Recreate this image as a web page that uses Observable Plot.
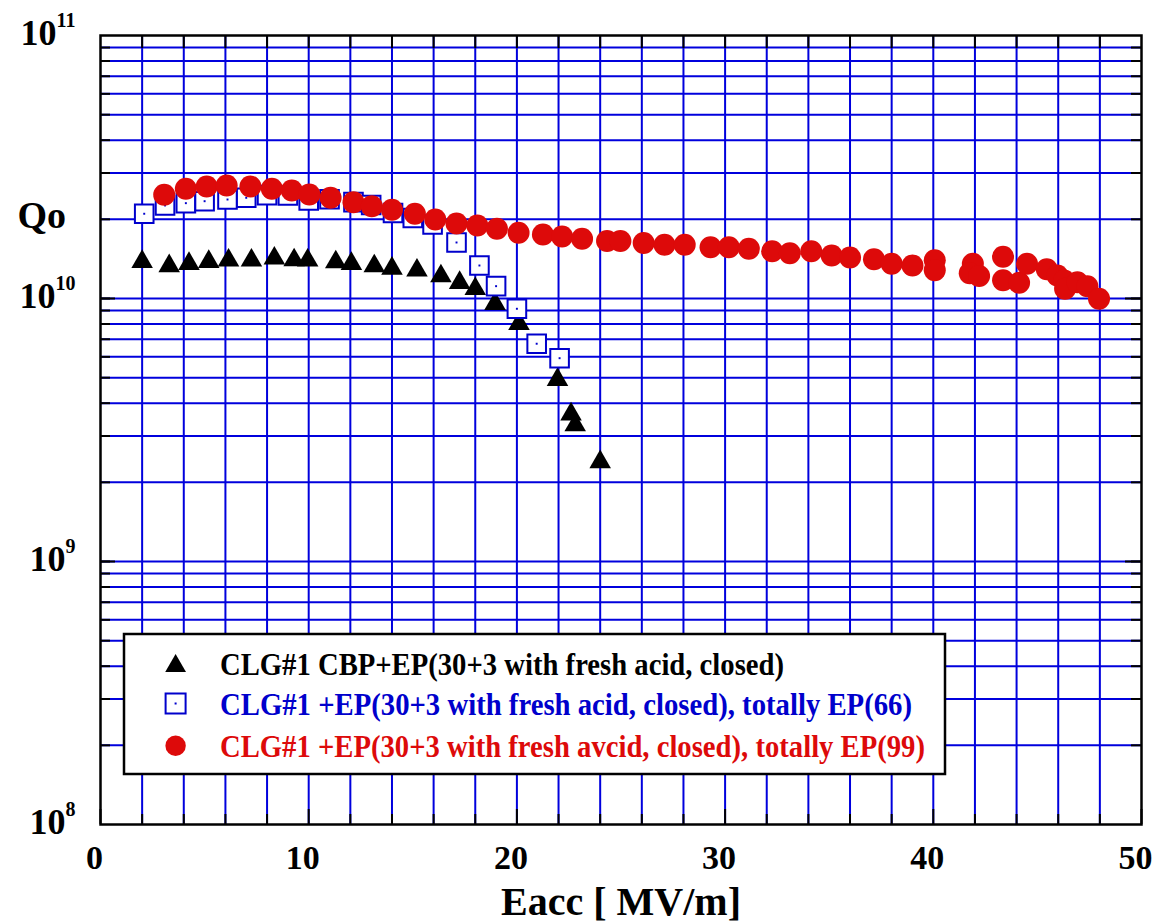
<!DOCTYPE html>
<html>
<head>
<meta charset="utf-8">
<script src="https://cdn.jsdelivr.net/npm/d3@7"></script>
<script src="https://cdn.jsdelivr.net/npm/@observablehq/plot@0.6"></script>
<style>
  html, body { margin: 0; padding: 0; background: #fff; }
  #chart { width: 1154px; height: 922px; }
</style>
</head>
<body>
<div id="chart"></div>
<script>
// ---- data ----
const seriesNames = [
  "CLG#1 CBP+EP(30+3 with fresh acid, closed)",
  "CLG#1 +EP(30+3 with fresh acid, closed), totally EP(66)",
  "CLG#1 +EP(30+3 with fresh avcid, closed), totally EP(99)"
];
const seriesColors = ["#000000", "#0000cc", "#dd0a0a"];

const cbpEacc = [2.0, 3.3, 4.25, 5.2, 6.15, 7.25, 8.35, 9.3, 9.95, 11.3, 12.05, 13.15, 14.0, 15.2, 16.35, 17.25, 18.0, 18.95, 20.1, 21.95, 22.6, 22.8, 24.0];
const cbpQ = [1.38e10, 1.33e10, 1.356e10, 1.38e10, 1.396e10, 1.396e10, 1.421e10, 1.40e10, 1.396e10, 1.375e10, 1.356e10, 1.328e10, 1.301e10, 1.279e10, 1.217e10, 1.148e10, 1.088e10, 9.55e9, 8.02e9, 4.91e9, 3.63e9, 3.30e9, 2.39e9];

const ep66Eacc = [2.1, 3.1, 4.1, 5.0, 6.1, 7.0, 8.0, 9.0, 10.0, 11.0, 12.15, 13.0, 14.05, 15.0, 15.95, 17.1, 18.2, 19.0, 20.0, 20.95, 22.05];
const ep66Q = [2.10e10, 2.258e10, 2.304e10, 2.344e10, 2.379e10, 2.415e10, 2.471e10, 2.464e10, 2.358e10, 2.385e10, 2.324e10, 2.268e10, 2.114e10, 2.024e10, 1.912e10, 1.633e10, 1.335e10, 1.114e10, 9.14e9, 6.73e9, 5.93e9];

const ep99Eacc = [3.06, 4.1, 5.1, 6.06, 7.2, 8.23, 9.19, 10.03, 11.05, 12.15, 13.03, 14.0, 15.1, 16.08, 17.1, 18.1, 19.04, 20.08, 21.25, 22.17, 23.13, 24.33, 24.97, 26.09, 27.09, 28.06, 29.3, 30.18, 31.14, 32.26, 33.11, 34.14, 35.12, 36.0, 37.15, 38.0, 39.0, 40.07, 40.07, 41.9, 41.75, 42.2, 43.35, 43.35, 44.12, 44.5, 45.45, 45.96, 46.28, 46.33, 46.92, 47.4, 47.96];
const ep99Q = [2.480e10, 2.613e10, 2.666e10, 2.690e10, 2.666e10, 2.613e10, 2.574e10, 2.486e10, 2.415e10, 2.324e10, 2.244e10, 2.174e10, 2.099e10, 1.997e10, 1.929e10, 1.895e10, 1.841e10, 1.778e10, 1.751e10, 1.721e10, 1.687e10, 1.654e10, 1.654e10, 1.626e10, 1.600e10, 1.600e10, 1.567e10, 1.567e10, 1.545e10, 1.512e10, 1.487e10, 1.513e10, 1.457e10, 1.432e10, 1.411e10, 1.355e10, 1.335e10, 1.398e10, 1.282e10, 1.355e10, 1.248e10, 1.218e10, 1.441e10, 1.174e10, 1.148e10, 1.355e10, 1.291e10, 1.223e10, 1.171e10, 1.089e10, 1.153e10, 1.113e10, 0.997e10];

const xTicks = [0, 10, 20, 30, 40, 50];
const xGrid = [2, 4, 6, 8, 10, 12, 14, 16, 18, 20, 22, 24, 26, 28, 30, 32, 34, 36, 38, 40, 42, 44, 46, 48];
const yTicks = [1e8, 1e9, 1e10, 1e11];
const yTickLabels = ["10^8", "10^9", "10^10", "10^11"];
const xLabel = "Eacc [ MV/m]";
const yLabel = "Qo";

// ---- build tables ----
const cbp = cbpEacc.map((x, i) => ({x, y: cbpQ[i]}));
const ep66 = ep66Eacc.map((x, i) => ({x, y: ep66Q[i]}));
const ep99 = ep99Eacc.map((x, i) => ({x, y: ep99Q[i]}));
const yDomain = [1e8, 1e11];
const yGrid = d3.scaleLog().domain(yDomain).ticks().filter(v => v > yDomain[0] && v < yDomain[1]);
const yMajor = yTicks.filter(v => v > yDomain[0] && v < yDomain[1]);
const xMinorAll = xGrid;

const W = 1154, H = 922;
const mL = 100, mR = 13, mT = 35, mB = 98;
const fw = W - mL - mR, fh = H - mT - mB;
const gridBlue = "#0000dd";
const font = "Liberation Serif";

const svg = Plot.plot({
  width: W, height: H,
  marginLeft: mL, marginRight: mR, marginTop: mT, marginBottom: mB,
  style: {background: "white", fontFamily: font, overflow: "visible"},
  x: {domain: [0, 50], axis: null},
  y: {type: "log", domain: yDomain, axis: null},
  marks: [
    Plot.ruleX(xGrid, {x: d => d, stroke: gridBlue, strokeWidth: 2}),
    Plot.ruleY(yGrid, {y: d => d, stroke: gridBlue, strokeWidth: 2}),
    // inward ticks
    Plot.tickX(xMinorAll, {x: d => d, insetBottom: fh - 13, stroke: "black", strokeWidth: 2}),
    Plot.tickX(xGrid.filter(v => v % 10 !== 0), {x: d => d, insetTop: fh - 10, stroke: "black", strokeWidth: 2}),
    Plot.tickX(xTicks, {x: d => d, insetTop: fh - 15, stroke: "black", strokeWidth: 2}),
    Plot.tickY(yGrid, {y: d => d, insetRight: fw - 10, stroke: "black", strokeWidth: 2}),
    Plot.tickY(yGrid, {y: d => d, insetLeft: fw - 10, stroke: "black", strokeWidth: 2}),
    Plot.tickY(yMajor, {y: d => d, insetRight: fw - 15, stroke: "black", strokeWidth: 2}),
    Plot.tickY(yMajor, {y: d => d, insetLeft: fw - 16, stroke: "black", strokeWidth: 2}),
    Plot.frame({stroke: "black", strokeWidth: 2.5}),
    // data
    Plot.dot(cbp, {x: "x", y: "y", symbol: "triangle", r: 8, fill: seriesColors[0], stroke: "none"}),
    Plot.dot(ep66, {x: "x", y: "y", symbol: "square", r: 10.5, fill: "white", stroke: seriesColors[1], strokeWidth: 2}),
    Plot.dot(ep66, {x: "x", y: "y", symbol: "square", r: 1.1, fill: seriesColors[1], stroke: "none"}),
    Plot.dot(ep99, {x: "x", y: "y", symbol: "circle", r: 11, fill: seriesColors[2], stroke: "none"}),
    // axis labels
    Plot.text(xTicks, {x: d => d, text: d => String(d), frameAnchor: "bottom", lineAnchor: "bottom", dy: 44, dx: -6,
      fontSize: 34, fontWeight: "bold", fontFamily: font, fill: "black"}),
    Plot.text(yTicks, {y: d => d, text: (d, i) => yTickLabels[i], frameAnchor: "left", textAnchor: "end", lineAnchor: "bottom", dx: -25, dy: 9,
      fontSize: 36, fontWeight: "bold", fontFamily: font, fill: "black"}),
    Plot.text([yLabel], {text: d => d, frameAnchor: "top-left", textAnchor: "start", lineAnchor: "bottom", dx: -83, dy: 192,
      fontSize: 38, fontWeight: "bold", fontFamily: font, fill: "black"}),
    Plot.text([xLabel], {text: d => d, frameAnchor: "bottom", lineAnchor: "bottom", dy: 90,
      fontSize: 40, fontWeight: "bold", fontFamily: font, fill: "black"})
  ]
});

// superscript exponents for the y tick labels
d3.select(svg).selectAll("text").each(function () {
  const m = /^10\^(\d+)$/.exec(this.textContent);
  if (!m) return;
  this.textContent = "10";
  const t = document.createElementNS("http://www.w3.org/2000/svg", "tspan");
  t.setAttribute("dy", "-18");
  t.setAttribute("font-size", "20");
  t.textContent = m[1];
  this.appendChild(t);
});

// legend box inside the plot
const lg = d3.select(svg).append("g")
  .attr("font-family", font).attr("font-weight", "bold").attr("font-size", 31)
  .attr("text-anchor", "start");
lg.append("rect").attr("x", 124).attr("y", 634).attr("width", 821).attr("height", 140)
  .attr("fill", "white").attr("stroke", "black").attr("stroke-width", 2.5);
const rowY = [666, 703.5, 745.7];
const baseY = [674.5, 715, 756.7];
const textLen = [564, 692, 705];
const sym = [d3.symbolTriangle, d3.symbolSquare, d3.symbolCircle];
const symSize = [5.196 * 6.0 * 6.0, 20 * 20, Math.PI * 10.2 * 10.2];
seriesNames.forEach((name, i) => {
  const p = lg.append("path")
    .attr("transform", `translate(175.6,${rowY[i]})`)
    .attr("d", d3.symbol(sym[i], symSize[i])());
  if (i === 1) {
    p.attr("fill", "white").attr("stroke", seriesColors[1]).attr("stroke-width", 2);
    lg.append("rect").attr("x", 174.6).attr("y", rowY[i] - 1).attr("width", 2).attr("height", 2).attr("fill", seriesColors[1]);
  } else {
    p.attr("fill", seriesColors[i]);
  }
  lg.append("text").attr("x", 220).attr("y", baseY[i]).attr("fill", seriesColors[i])
    .attr("text-anchor", "start")
    .attr("textLength", textLen[i]).attr("lengthAdjust", "spacingAndGlyphs")
    .text(name);
});

document.getElementById("chart").appendChild(svg);
</script>
</body>
</html>
